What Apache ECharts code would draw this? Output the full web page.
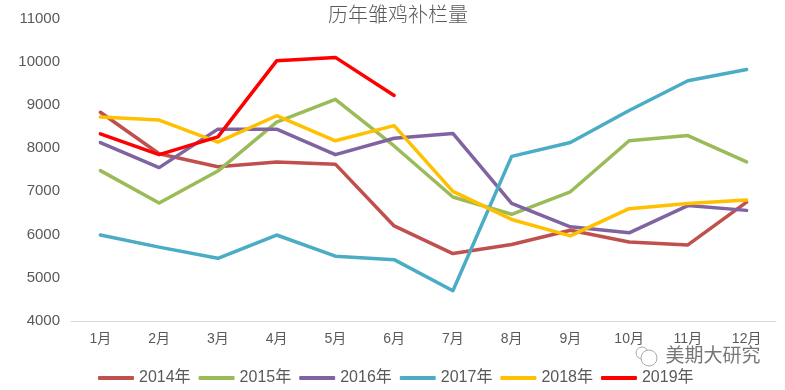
<!DOCTYPE html>
<html>
<head>
<meta charset="utf-8">
<style>
  html, body { margin: 0; padding: 0; background: #fff; }
  #main { width: 785px; height: 390px; }
</style>
<script src="https://cdn.jsdelivr.net/npm/echarts@6/dist/echarts.min.js"></script>
</head>
<body>
<div id="main"></div>
<script>
const months = ['1月', '2月', '3月', '4月', '5月', '6月', '7月', '8月', '9月', '10月', '11月', '12月']
const y2014 = [8830, 7870, 7570, 7680, 7630, 6200, 5560, 5770, 6100, 5830, 5760, 6750]
const y2015 = [7480, 6730, 7470, 8600, 9130, 8050, 6870, 6470, 6990, 8170, 8290, 7680]
const y2016 = [8130, 7550, 8440, 8440, 7850, 8230, 8340, 6720, 6180, 6040, 6670, 6560]
const y2017 = [5990, 5710, 5450, 5990, 5500, 5420, 4700, 7810, 8130, 8870, 9560, 9820]
const y2018 = [8720, 8650, 8140, 8750, 8170, 8520, 7000, 6350, 5970, 6600, 6720, 6800]
const y2019 = [8330, 7850, 8260, 10020, 10100, 9220]

const font = '"Liberation Sans", "Noto Sans CJK SC", sans-serif'
const textColor = '#595959'

const makeLine = (name, data, color) => ({
  name: name,
  type: 'line',
  data: data,
  symbol: 'none',
  smooth: false,
  lineStyle: { color: color, width: 3.5, cap: 'round', join: 'round' },
  itemStyle: { color: color }
})

const chart = echarts.init(document.getElementById('main'))
chart.setOption({
  animation: false,
  textStyle: { fontFamily: font },
  title: {
    text: '历年雏鸡补栏量',
    left: 323,
    top: -1,
    textStyle: { fontFamily: '"Noto Sans CJK SC", sans-serif', fontSize: 20, fontWeight: 200, color: textColor }
  },
  legend: {
    left: 93,
    top: 365,
    itemWidth: 36,
    itemHeight: 4,
    itemGap: 8,
    icon: 'roundRect',
    textStyle: { fontFamily: font, fontSize: 16, color: textColor }
  },
  grid: { left: 71, right: 9, top: 18.5, bottom: 69 },
  xAxis: {
    type: 'category',
    data: months,
    axisTick: { show: false },
    axisLine: { lineStyle: { color: '#d9d9d9', width: 1 } },
    axisLabel: { fontSize: 14, color: textColor, margin: 11 }
  },
  yAxis: {
    type: 'value',
    min: 4000,
    max: 11000,
    interval: 1000,
    splitLine: { show: false },
    axisLine: { show: false },
    axisTick: { show: false },
    axisLabel: { fontSize: 15, color: textColor, margin: 11, formatter: (v) => String(v) }
  },
  graphic: [
    {
      type: 'text',
      left: 665,
      top: 345,
      style: { text: '美期大研究', fontFamily: '"Noto Sans CJK SC", sans-serif', fontSize: 19, fill: '#777', stroke: '#fff', lineWidth: 1 }
    },
    { type: 'circle', shape: { cx: 642, cy: 353, r: 6 }, style: { fill: 'none', stroke: '#aaa', lineWidth: 1 } },
    { type: 'circle', shape: { cx: 649, cy: 358, r: 8 }, style: { fill: '#fff', stroke: '#aaa', lineWidth: 1 } }
  ],
  series: [
    makeLine('2014年', y2014, '#c0504d'),
    makeLine('2015年', y2015, '#9bbb59'),
    makeLine('2016年', y2016, '#8064a2'),
    makeLine('2017年', y2017, '#4bacc6'),
    makeLine('2018年', y2018, '#ffc000'),
    makeLine('2019年', y2019, '#ff0000')
  ]
})
</script>
</body>
</html>
